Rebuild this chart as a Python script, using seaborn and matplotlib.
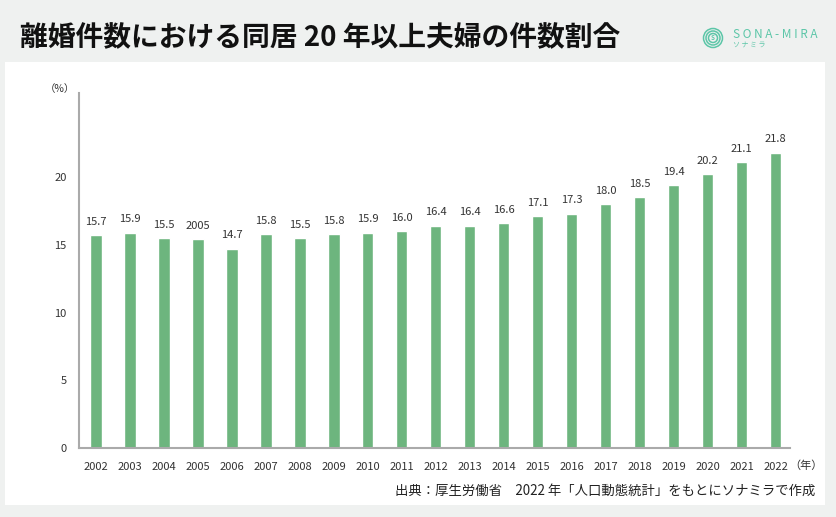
import numpy as np
import pandas as pd
import matplotlib
matplotlib.use("Agg")
import matplotlib.pyplot as plt
import matplotlib.patches as mpatches
import seaborn as sns

# Data
years = [str(y) for y in range(2002, 2023)]
ratios = [15.7, 15.9, 15.5, 15.4, 14.7, 15.8, 15.5, 15.8, 15.9, 16.0, 16.4,
          16.4, 16.6, 17.1, 17.3, 18.0, 18.5, 19.4, 20.2, 21.1, 21.8]
bar_labels = ["15.7", "15.9", "15.5", "2005", "14.7", "15.8", "15.5", "15.8",
              "15.9", "16.0", "16.4", "16.4", "16.6", "17.1", "17.3", "18.0",
              "18.5", "19.4", "20.2", "21.1", "21.8"]
y_ticks = [0, 5, 10, 15, 20]

title = "離婚件数における同居 20 年以上夫婦の件数割合"
source = "出典：厚生労働省　2022 年「人口動態統計」をもとにソナミラで作成"

sns.set_style("white")
plt.rcParams['font.family'] = ['Noto Sans CJK JP', 'DejaVu Sans']

bg = "#eff1f0"
bar_color = "#6db57e"
teal = "#5cc6a8"

fig = plt.figure(figsize=(8.36, 5.17), dpi=100)
fig.patch.set_facecolor(bg)

# white panel
fig.add_artist(mpatches.Rectangle((5 / 836, 1 - 505 / 517), 820 / 836, 443 / 517,
                                  transform=fig.transFigure, facecolor="white",
                                  edgecolor="none", zorder=0))

ax = fig.add_axes([79 / 836, 1 - 448 / 517, 711 / 836, 355 / 517])
ax.set_facecolor("none")

df = pd.DataFrame({"year": years, "ratio": ratios})
sns.barplot(data=df, x="year", y="ratio", color=bar_color, saturation=1,
            width=0.33, ax=ax)

for i, (v, lab) in enumerate(zip(ratios, bar_labels)):
    ax.annotate(lab, (i, v), xytext=(0, 6), textcoords="offset points",
                ha="center", va="bottom", fontsize=8, color="#333333")

ax.set_xlim(-0.5, 20.42)
ax.set_ylim(0, 26.2)
ax.set_yticks(y_ticks)
ax.set_xlabel("")
ax.set_ylabel("")
ax.tick_params(axis="both", length=0, labelsize=8, colors="#333333")
ax.tick_params(axis="x", pad=10)
ax.tick_params(axis="y", pad=9)
for s in ["top", "right"]:
    ax.spines[s].set_visible(False)
for s in ["left", "bottom"]:
    ax.spines[s].set_color("#aaaaaa")
    ax.spines[s].set_linewidth(1.5)

fig.text(60 / 836, 1 - 89 / 517, "（%）", ha="center", va="center",
         fontsize=7.5, color="#333333")
fig.text(806 / 836, 1 - 466 / 517, "（年）", ha="center", va="center",
         fontsize=8, color="#333333")

# title
fig.text(20 / 836, 1 - 38 / 517, title, ha="left", va="center",
         fontsize=20, fontweight="bold", color="#111111")

# source
fig.text(815 / 836, 1 - 491 / 517, source, ha="right", va="center",
         fontsize=9.6, color="#222222")

# logo
cx, cy = 713, 38
for r in [9.5, 7, 4.5]:
    fig.add_artist(mpatches.Ellipse((cx / 836, 1 - cy / 517), 2 * r / 836, 2 * r / 517,
                                    transform=fig.transFigure, facecolor="none",
                                    edgecolor=teal, linewidth=1.1))
fig.text(cx / 836, 1 - cy / 517, "S", ha="center", va="center", fontsize=4.5,
         color=teal, fontweight="bold")
fig.text(733 / 836, 1 - 34 / 517, "S O N A - M I R A", ha="left", va="center",
         fontsize=8.5, color=teal)
fig.text(733 / 836, 1 - 45 / 517, "ソ ナ ミ ラ", ha="left", va="center",
         fontsize=5, color=teal)

fig.savefig("out.png", dpi=100, facecolor=bg)
